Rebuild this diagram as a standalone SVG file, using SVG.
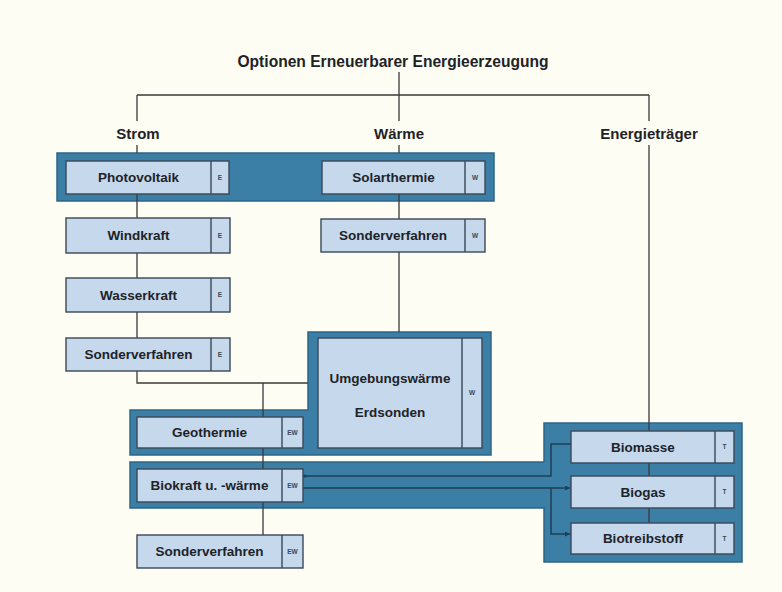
<svg xmlns="http://www.w3.org/2000/svg" width="782" height="592" viewBox="0 0 782 592">
<defs>
<style>
.band{fill:#3b7fa6;stroke:#2c6588;stroke-width:1.5}
.box{fill:#c5d8ec;stroke:#3a4856;stroke-width:1.4}
.div{stroke:#3a4856;stroke-width:1.4}
.lbl{font-family:"Liberation Sans",Arial,sans-serif;font-weight:bold;font-size:13.5px;fill:#1e2328;text-anchor:middle}
.hdr{font-family:"Liberation Sans",Arial,sans-serif;font-weight:bold;font-size:15px;fill:#1e2328;text-anchor:middle}
.ttl{font-family:"Liberation Sans",Arial,sans-serif;font-weight:bold;font-size:15.6px;fill:#1e2328;text-anchor:middle}
.sm{font-family:"Liberation Sans",Arial,sans-serif;font-weight:bold;font-size:6.5px;fill:#3a4856;text-anchor:middle}
.ln{fill:none;stroke:#3a3a3a;stroke-width:1.3}
.bl{fill:none;stroke:#1f3f55;stroke-width:1.5}
</style>
<marker id="ah" viewBox="0 0 6 6" refX="6" refY="3" markerWidth="5" markerHeight="5" orient="auto" markerUnits="userSpaceOnUse">
<path d="M0,0 L6,3 L0,6 Z" fill="#1f3f55"/>
</marker>
</defs>
<rect width="782" height="592" fill="#fefdf3"/>

<g id="bands">
<rect class="band" x="57" y="153" width="437" height="48"/>
<path class="band" d="M308,332 H491 V455 H130 V410 H308 Z"/>
<path class="band" d="M130,462 H544 V423 H742 V562 H544 V508 H130 Z"/>
</g>

<g id="headers">
<text class="ttl" x="393" y="67">Optionen Erneuerbarer Energieerzeugung</text>
<text class="hdr" x="138" y="139">Strom</text>
<text class="hdr" x="399" y="139">Wärme</text>
<text class="hdr" x="649" y="139">Energieträger</text>
</g>

<g id="connectors">
<path class="ln" d="M399,72 V95 M137,95 H649 M137,95 V121 M399,95 V121 M649,95 V121"/>
<path class="ln" d="M137,145 V153 M399,145 V153 M649,145 V431"/>
<path class="ln" d="M649,463 V476 M649,508 V523"/>
<path class="ln" d="M137,194 V218 M137,253 V278 M137,312 V338 M137,371 V383 H308"/>
<path class="ln" d="M263,383 V535"/>
<path class="ln" d="M399,194 V219 M399,252 V332"/>
<path class="bl" d="M303,476 H551 V444 H571"/>
<path class="bl" d="M303,488 H570" marker-end="url(#ah)"/>
<path class="bl" d="M551,488 V534 H570" marker-end="url(#ah)"/>
<circle cx="305" cy="476" r="1.6" fill="#1f3f55"/>
</g>

<g id="photovoltaik">
<rect class="box" x="66" y="161" width="163" height="33"/>
<line class="div" x1="211" y1="161" x2="211" y2="194"/>
<text class="lbl" x="138.5" y="182">Photovoltaik</text>
<text class="sm" x="220" y="180">E</text>
</g>
<g id="solarthermie">
<rect class="box" x="322" y="161" width="163" height="33"/>
<line class="div" x1="465" y1="161" x2="465" y2="194"/>
<text class="lbl" x="393.5" y="182">Solarthermie</text>
<text class="sm" x="475" y="180">W</text>
</g>
<g id="windkraft">
<rect class="box" x="66" y="218" width="164" height="35"/>
<line class="div" x1="211" y1="218" x2="211" y2="253"/>
<text class="lbl" x="138.5" y="240">Windkraft</text>
<text class="sm" x="220" y="238">E</text>
</g>
<g id="wasserkraft">
<rect class="box" x="66" y="278" width="164" height="34"/>
<line class="div" x1="211" y1="278" x2="211" y2="312"/>
<text class="lbl" x="138.5" y="300">Wasserkraft</text>
<text class="sm" x="220" y="297">E</text>
</g>
<g id="sonderverfahren-strom">
<rect class="box" x="66" y="338" width="164" height="33"/>
<line class="div" x1="211" y1="338" x2="211" y2="371"/>
<text class="lbl" x="138.5" y="359">Sonderverfahren</text>
<text class="sm" x="220" y="357">E</text>
</g>
<g id="sonderverfahren-waerme">
<rect class="box" x="321" y="219" width="164" height="33"/>
<line class="div" x1="465" y1="219" x2="465" y2="252"/>
<text class="lbl" x="393" y="240">Sonderverfahren</text>
<text class="sm" x="475" y="238">W</text>
</g>
<g id="umgebungswaerme">
<rect class="box" x="318" y="338" width="164" height="110"/>
<line class="div" x1="462" y1="338" x2="462" y2="448"/>
<text class="lbl" x="390" y="383">Umgebungswärme</text>
<text class="lbl" x="390" y="417">Erdsonden</text>
<text class="sm" x="472" y="395">W</text>
</g>
<g id="geothermie">
<rect class="box" x="137" y="417" width="166" height="31"/>
<line class="div" x1="282" y1="417" x2="282" y2="448"/>
<text class="lbl" x="209.5" y="437">Geothermie</text>
<text class="sm" x="292.5" y="435">EW</text>
</g>
<g id="biokraft">
<rect class="box" x="137" y="469" width="166" height="33"/>
<line class="div" x1="282" y1="469" x2="282" y2="502"/>
<text class="lbl" x="209.5" y="490">Biokraft u. -wärme</text>
<text class="sm" x="292.5" y="488">EW</text>
</g>
<g id="sonderverfahren-bio">
<rect class="box" x="137" y="535" width="166" height="33"/>
<line class="div" x1="282" y1="535" x2="282" y2="568"/>
<text class="lbl" x="209.5" y="556">Sonderverfahren</text>
<text class="sm" x="292.5" y="554">EW</text>
</g>
<g id="biomasse">
<rect class="box" x="571" y="431" width="163" height="32"/>
<line class="div" x1="715" y1="431" x2="715" y2="463"/>
<text class="lbl" x="643" y="452">Biomasse</text>
<text class="sm" x="724.5" y="449">T</text>
</g>
<g id="biogas">
<rect class="box" x="571" y="476" width="163" height="32"/>
<line class="div" x1="715" y1="476" x2="715" y2="508"/>
<text class="lbl" x="643" y="497">Biogas</text>
<text class="sm" x="724.5" y="494">T</text>
</g>
<g id="biotreibstoff">
<rect class="box" x="571" y="523" width="163" height="31"/>
<line class="div" x1="715" y1="523" x2="715" y2="554"/>
<text class="lbl" x="643" y="543">Biotreibstoff</text>
<text class="sm" x="724.5" y="541">T</text>
</g>
</svg>
